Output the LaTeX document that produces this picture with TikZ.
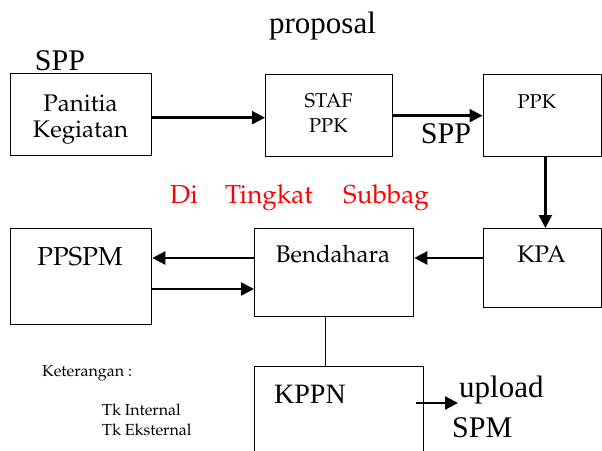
\documentclass[tikz,border=0pt]{standalone}
\usepackage[T1]{fontenc}
\usepackage{fontspec}
\setmainfont{Liberation Serif}
\usetikzlibrary{arrows.meta}
\IfFileExists{t1ppl.fd}
  {\newcommand\palfont{\fontencoding{T1}\fontfamily{ppl}\selectfont}}
  {\IfFileExists{t1pplx.fd}
    {\newcommand\palfont{\fontencoding{T1}\fontfamily{pplx}\selectfont}}
    {\newcommand\palfont{\rmfamily}}}
\definecolor{subred}{RGB}{255,0,0}
\begin{document}
\begin{tikzpicture}[x=1pt,y=-1pt,
  box/.style={draw, line width=1.3pt, inner sep=0pt, anchor=north west},
  arr/.style={line width=2.4pt, -{Triangle[length=13pt,width=13pt]}},
  plain/.style={line width=1.3pt},
  txt/.style={inner sep=0pt, anchor=base},
  txtw/.style={inner sep=0pt, anchor=base west},
  pal/.style={font=\palfont\fontsize{#1}{#1}\selectfont},
  tms/.style={font=\fontsize{#1}{#1}\selectfont}]
\useasboundingbox (0,0) rectangle (602,450);
\clip (0,0) rectangle (602,450);
\fill[white] (0,0) rectangle (602,450);

% boxes
\node[box, minimum width=141pt, minimum height=82pt] (pan) at (10,73) {};
\node[box, minimum width=127pt, minimum height=82pt] (staf) at (265,74) {};
\node[box, minimum width=118.5pt, minimum height=82pt] (ppk) at (482.5,74) {};
\node[box, minimum width=141pt, minimum height=96pt] (ppspm) at (10,228) {};
\node[box, minimum width=159pt, minimum height=88pt] (bend) at (254,228) {};
\node[box, minimum width=118.5pt, minimum height=79pt] (kpa) at (482.5,228) {};
\node[box, minimum width=169pt, minimum height=110pt] (kppn) at (254,366) {};

% box texts
\node[txt, pal=24] (tpan1) at (80.5,111) {Panitia};
\node[txt, pal=24] (tpan2) at (80.5,137) {Kegiatan};
\node[txt, pal=20] (tstaf1) at (328.5,107) {STAF};
\node[txt, pal=20] (tstaf2) at (328.5,132) {PPK};
\node[txt, pal=20] (tppk) at (537,108) {PPK};
\node[txt, pal=26] (tppspm) at (80,265) {PPSPM};
\node[txt, pal=24] (tbend) at (333,262) {Bendahara};
\node[txt, pal=24] (tkpa) at (541.5,262) {KPA};
\node[txtw, tms=28] (tkppn) at (274,403) {KPPN};

% free labels
\node[txt, tms=31] (prop) at (322.5,33) {proposal};
\node[txt, tms=30] (spp1) at (60,70) {SPP};
\node[txt, tms=30] (spp2) at (446,143) {SPP};
\node[txtw, tms=31] (upl) at (459,397) {upload};
\node[txtw, tms=30] (spm) at (452,437) {SPM};
\node[txtw, pal=26, text=subred] (di) at (170,203) {Di};
\node[txtw, pal=26, text=subred] (ting) at (225,203) {Tingkat};
\node[txtw, pal=26, text=subred] (subb) at (343,203) {Subbag};
\node[txtw, pal=16] (ket) at (42,376) {Keterangan :};
\node[txtw, pal=16] (tki) at (102,415) {Tk Internal};
\node[txtw, pal=16] (tke) at (102,435) {Tk Eksternal};

% helper coordinates
\coordinate (r1) at (0,258);
\coordinate (r2) at (0,289);
\coordinate (cx) at (325.5,0);
\coordinate (upend) at (458,403);

% connectors
\draw[arr] ([yshift=-3pt]pan.east) -- ([yshift=-3pt]pan.east -| staf.west);
\draw[arr] (staf.east) -- (staf.east -| ppk.west);
\draw[arr] ([xshift=3pt]ppk.south) -- ([xshift=3pt]kpa.north);
\draw[arr] (kpa.west |- r1) -- (bend.east |- r1);
\draw[arr] (bend.west |- r1) -- (ppspm.east |- r1);
\draw[arr] (ppspm.east |- r2) -- (bend.west |- r2);
\draw[plain] (bend.south -| cx) -- (kppn.north -| cx);
\draw[arr] ([xshift=-8pt]kppn.east |- upend) -- (upend);
\end{tikzpicture}
\end{document}
